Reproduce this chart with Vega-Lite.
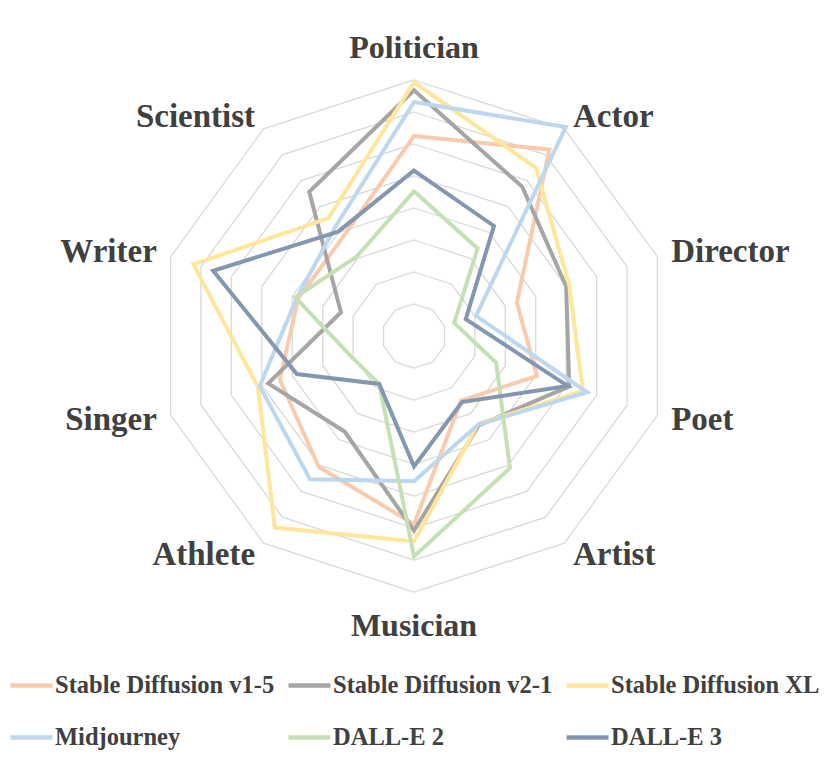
{
  "$schema": "https://vega.github.io/schema/vega-lite/v6.json",
  "width": 830,
  "height": 771,
  "padding": 0,
  "autosize": {"type": "none"},
  "background": "white",
  "config": {
    "view": {"stroke": null},
    "axis": {"disable": true}
  },
  "datasets": {
    "cats": [
      {"category": "Politician", "order": 0, "rings": [1,2,3,4,5,6,7,8]},
      {"category": "Actor", "order": 1, "rings": [1,2,3,4,5,6,7,8]},
      {"category": "Director", "order": 2, "rings": [1,2,3,4,5,6,7,8]},
      {"category": "Poet", "order": 3, "rings": [1,2,3,4,5,6,7,8]},
      {"category": "Artist", "order": 4, "rings": [1,2,3,4,5,6,7,8]},
      {"category": "Musician", "order": 5, "rings": [1,2,3,4,5,6,7,8]},
      {"category": "Athlete", "order": 6, "rings": [1,2,3,4,5,6,7,8]},
      {"category": "Singer", "order": 7, "rings": [1,2,3,4,5,6,7,8]},
      {"category": "Writer", "order": 8, "rings": [1,2,3,4,5,6,7,8]},
      {"category": "Scientist", "order": 9, "rings": [1,2,3,4,5,6,7,8]}
    ],
    "scores": [
      {"model": "Stable Diffusion v1-5", "category": "Politician", "value": 6.25},
      {"model": "Stable Diffusion v1-5", "category": "Actor", "value": 7.2},
      {"model": "Stable Diffusion v1-5", "category": "Director", "value": 3.38},
      {"model": "Stable Diffusion v1-5", "category": "Poet", "value": 4.04},
      {"model": "Stable Diffusion v1-5", "category": "Artist", "value": 2.5},
      {"model": "Stable Diffusion v1-5", "category": "Musician", "value": 5.88},
      {"model": "Stable Diffusion v1-5", "category": "Athlete", "value": 5.06},
      {"model": "Stable Diffusion v1-5", "category": "Singer", "value": 4.41},
      {"model": "Stable Diffusion v1-5", "category": "Writer", "value": 3.8},
      {"model": "Stable Diffusion v1-5", "category": "Scientist", "value": 3.8},
      {"model": "Stable Diffusion v2-1", "category": "Politician", "value": 7.68},
      {"model": "Stable Diffusion v2-1", "category": "Actor", "value": 5.76},
      {"model": "Stable Diffusion v2-1", "category": "Director", "value": 5.0},
      {"model": "Stable Diffusion v2-1", "category": "Poet", "value": 5.1},
      {"model": "Stable Diffusion v2-1", "category": "Artist", "value": 3.45},
      {"model": "Stable Diffusion v2-1", "category": "Musician", "value": 6.08},
      {"model": "Stable Diffusion v2-1", "category": "Athlete", "value": 3.69},
      {"model": "Stable Diffusion v2-1", "category": "Singer", "value": 4.79},
      {"model": "Stable Diffusion v2-1", "category": "Writer", "value": 2.4},
      {"model": "Stable Diffusion v2-1", "category": "Scientist", "value": 5.57},
      {"model": "Stable Diffusion XL", "category": "Politician", "value": 7.93},
      {"model": "Stable Diffusion XL", "category": "Actor", "value": 6.49},
      {"model": "Stable Diffusion XL", "category": "Director", "value": 5.1},
      {"model": "Stable Diffusion XL", "category": "Poet", "value": 5.55},
      {"model": "Stable Diffusion XL", "category": "Artist", "value": 3.4},
      {"model": "Stable Diffusion XL", "category": "Musician", "value": 6.42},
      {"model": "Stable Diffusion XL", "category": "Athlete", "value": 7.4},
      {"model": "Stable Diffusion XL", "category": "Singer", "value": 5.13},
      {"model": "Stable Diffusion XL", "category": "Writer", "value": 7.25},
      {"model": "Stable Diffusion XL", "category": "Scientist", "value": 4.55},
      {"model": "Midjourney", "category": "Politician", "value": 7.31},
      {"model": "Midjourney", "category": "Actor", "value": 8.07},
      {"model": "Midjourney", "category": "Director", "value": 2.04},
      {"model": "Midjourney", "category": "Poet", "value": 5.69},
      {"model": "Midjourney", "category": "Artist", "value": 3.42},
      {"model": "Midjourney", "category": "Musician", "value": 4.54},
      {"model": "Midjourney", "category": "Athlete", "value": 5.53},
      {"model": "Midjourney", "category": "Singer", "value": 5.07},
      {"model": "Midjourney", "category": "Writer", "value": 3.85},
      {"model": "Midjourney", "category": "Scientist", "value": 4.2},
      {"model": "DALL-E 2", "category": "Politician", "value": 4.52},
      {"model": "DALL-E 2", "category": "Actor", "value": 3.38},
      {"model": "DALL-E 2", "category": "Director", "value": 1.32},
      {"model": "DALL-E 2", "category": "Poet", "value": 2.7},
      {"model": "DALL-E 2", "category": "Artist", "value": 5.1},
      {"model": "DALL-E 2", "category": "Musician", "value": 6.89},
      {"model": "DALL-E 2", "category": "Athlete", "value": 1.85},
      {"model": "DALL-E 2", "category": "Singer", "value": 2.07},
      {"model": "DALL-E 2", "category": "Writer", "value": 3.9},
      {"model": "DALL-E 2", "category": "Scientist", "value": 3.06},
      {"model": "DALL-E 3", "category": "Politician", "value": 5.17},
      {"model": "DALL-E 3", "category": "Actor", "value": 4.25},
      {"model": "DALL-E 3", "category": "Director", "value": 1.7},
      {"model": "DALL-E 3", "category": "Poet", "value": 5.05},
      {"model": "DALL-E 3", "category": "Artist", "value": 2.55},
      {"model": "DALL-E 3", "category": "Musician", "value": 4.08},
      {"model": "DALL-E 3", "category": "Athlete", "value": 1.85},
      {"model": "DALL-E 3", "category": "Singer", "value": 3.85},
      {"model": "DALL-E 3", "category": "Writer", "value": 6.6},
      {"model": "DALL-E 3", "category": "Scientist", "value": 4.03}
    ]
  },
  "layer": [
    {
      "data": {"name": "cats"},
      "transform": [
        {"flatten": ["rings"], "as": ["ring"]},
        {"calculate": "PI/2 - datum.order*PI/5", "as": "ang"},
        {"calculate": "datum.ring*cos(datum.ang)", "as": "px"},
        {"calculate": "datum.ring*sin(datum.ang)", "as": "py"}
      ],
      "mark": {"type": "line", "interpolate": "linear-closed", "stroke": "#d9d9d9", "strokeWidth": 1.3},
      "encoding": {
        "x": {"field": "px", "type": "quantitative", "scale": {"domain": [-12.9375, 13.0], "nice": false, "zero": false}, "axis": null},
        "y": {"field": "py", "type": "quantitative", "scale": {"domain": [-13.59375, 10.5], "nice": false, "zero": false}, "axis": null},
        "detail": {"field": "ring", "type": "nominal"},
        "order": {"field": "order", "type": "quantitative"}
      }
    },
    {
      "data": {"name": "scores"},
      "transform": [
        {"lookup": "category", "from": {"data": {"name": "cats"}, "key": "category", "fields": ["order"]}},
        {"calculate": "PI/2 - datum.order*PI/5", "as": "ang"},
        {"calculate": "datum.value*cos(datum.ang)", "as": "px"},
        {"calculate": "datum.value*sin(datum.ang)", "as": "py"}
      ],
      "mark": {"type": "line", "interpolate": "linear-closed", "strokeWidth": 4},
      "encoding": {
        "x": {"field": "px", "type": "quantitative"},
        "y": {"field": "py", "type": "quantitative"},
        "order": {"field": "order", "type": "quantitative"},
        "color": {
          "field": "model",
          "type": "nominal",
          "sort": ["Stable Diffusion v1-5", "Stable Diffusion v2-1", "Stable Diffusion XL", "Midjourney", "DALL-E 2", "DALL-E 3"],
          "scale": {
            "domain": ["Stable Diffusion v1-5", "Stable Diffusion v2-1", "Stable Diffusion XL", "Midjourney", "DALL-E 2", "DALL-E 3"],
            "range": ["#F8CBAD", "#A5A5A5", "#FFE699", "#BDD7EE", "#C5E0B4", "#8497B0"]
          },
          "legend": {
            "title": null,
            "orient": "none",
            "legendX": 8,
            "legendY": 662,
            "direction": "horizontal",
            "columns": 3,
            "symbolType": "stroke",
            "symbolSize": 1764,
            "symbolStrokeWidth": 4.5,
            "labelFont": "Liberation Serif",
            "labelFontWeight": "bold",
            "labelFontSize": 24.5,
            "labelColor": "#404040",
            "labelOffset": 0,
            "labelLimit": 0,
            "columnPadding": 4,
            "rowPadding": 17,
            "padding": 0
          }
        }
      }
    },
    {
      "data": {"name": "cats"},
      "transform": [
        {"filter": "datum.order >= 1 && datum.order <= 4"},
        {"calculate": "PI/2 - datum.order*PI/5", "as": "ang"},
        {"calculate": "8.45*cos(datum.ang)", "as": "px"},
        {"calculate": "8.45*sin(datum.ang)", "as": "py"}
      ],
      "mark": {"type": "text", "align": "left", "baseline": "middle", "font": "Liberation Serif", "fontWeight": "bold", "fontSize": 33, "color": "#404040"},
      "encoding": {
        "x": {"field": "px", "type": "quantitative"},
        "y": {"field": "py", "type": "quantitative"},
        "text": {"field": "category"}
      }
    },
    {
      "data": {"name": "cats"},
      "transform": [
        {"filter": "datum.order >= 6"},
        {"calculate": "PI/2 - datum.order*PI/5", "as": "ang"},
        {"calculate": "8.45*cos(datum.ang)", "as": "px"},
        {"calculate": "8.45*sin(datum.ang)", "as": "py"}
      ],
      "mark": {"type": "text", "align": "right", "baseline": "middle", "font": "Liberation Serif", "fontWeight": "bold", "fontSize": 33, "color": "#404040"},
      "encoding": {
        "x": {"field": "px", "type": "quantitative"},
        "y": {"field": "py", "type": "quantitative"},
        "text": {"field": "category"}
      }
    },
    {
      "data": {"name": "cats"},
      "transform": [
        {"filter": "datum.order == 0"},
        {"calculate": "0", "as": "px"},
        {"calculate": "8.69", "as": "py"}
      ],
      "mark": {"type": "text", "align": "center", "baseline": "alphabetic", "font": "Liberation Serif", "fontWeight": "bold", "fontSize": 32, "color": "#404040"},
      "encoding": {
        "x": {"field": "px", "type": "quantitative"},
        "y": {"field": "py", "type": "quantitative"},
        "text": {"field": "category"}
      }
    },
    {
      "data": {"name": "cats"},
      "transform": [
        {"filter": "datum.order == 5"},
        {"calculate": "0", "as": "px"},
        {"calculate": "-9.375", "as": "py"}
      ],
      "mark": {"type": "text", "align": "center", "baseline": "alphabetic", "font": "Liberation Serif", "fontWeight": "bold", "fontSize": 32, "color": "#404040"},
      "encoding": {
        "x": {"field": "px", "type": "quantitative"},
        "y": {"field": "py", "type": "quantitative"},
        "text": {"field": "category"}
      }
    }
  ]
}
